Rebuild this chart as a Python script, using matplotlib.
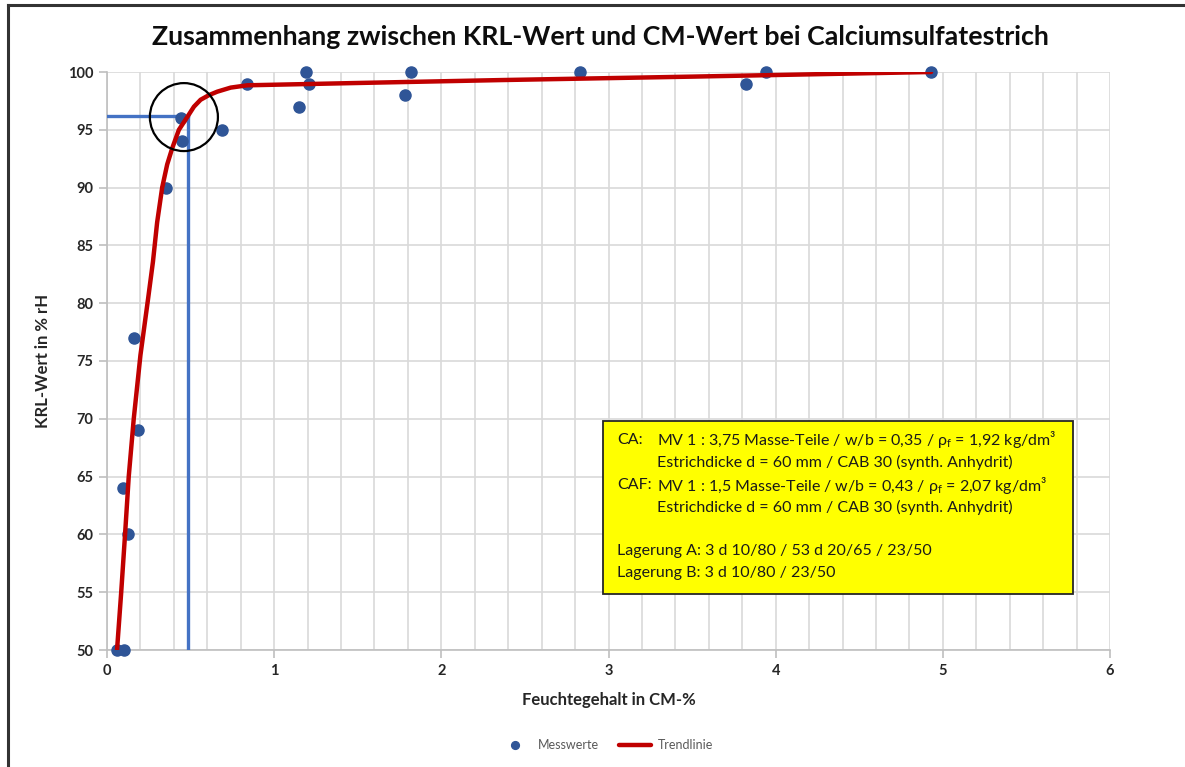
import matplotlib
matplotlib.use("Agg")
from matplotlib import pyplot as plt
from matplotlib.patches import Ellipse, Rectangle
from matplotlib.lines import Line2D
import numpy as np

plt.rcParams['font.family'] = ['Lato', 'DejaVu Sans']
plt.rcParams['mathtext.fontset'] = 'custom'
plt.rcParams['mathtext.rm'] = 'Lato'
plt.rcParams['mathtext.it'] = 'Lato:italic'

# Messwerte (CM-% / KRL-Wert % rH)
mess_x = [0.06, 0.10, 0.096, 0.125, 0.185, 0.16, 0.35, 0.44, 0.45, 0.69,
          0.84, 1.15, 1.19, 1.21, 1.78, 1.82, 2.83, 3.82, 3.94, 4.93]
mess_y = [50, 50, 64, 60, 69, 77, 90, 96, 94, 95,
          99, 97, 100, 99, 98, 100, 100, 99, 100, 100]

# Trendlinie
trend_x = [0.06, 0.085, 0.108, 0.13, 0.16, 0.20, 0.245, 0.275, 0.30, 0.33,
           0.36, 0.39, 0.43, 0.48, 0.52, 0.56, 0.61, 0.66, 0.74, 0.84,
           1.5, 2.35, 3.5, 4.93]
trend_y = [50, 55, 60, 65, 70, 75.5, 80.3, 83.6, 87.0, 90.0,
           92.0, 93.4, 95.0, 96.1, 97.0, 97.6, 98.0, 98.3, 98.65, 98.85,
           99.05, 99.3, 99.6, 100]

ablese_x = 0.485
ablese_y = 96.2

fig = plt.figure(figsize=(11.85, 7.67), dpi=100)
ax = fig.add_axes([107/1185, 1 - 650/767, (1110-107)/1185, (650-72)/767])

grid_c = "#d9d9d9"
ax.set_xlim(0, 6)
ax.set_ylim(50, 100)
ax.set_xticks(np.arange(0, 7, 1))
ax.set_xticks(np.arange(0, 6.01, 0.2), minor=True)
ax.set_yticks(np.arange(50, 101, 5))
ax.grid(which="both", color=grid_c, linewidth=1.2)
ax.set_axisbelow(True)
for s in ["top", "right"]:
    ax.spines[s].set_visible(False)
for s in ["left", "bottom"]:
    ax.spines[s].set_color("#bfbfbf")
    ax.spines[s].set_linewidth(1.2)
ax.tick_params(which="major", length=6, color="#bfbfbf", width=1.2,
               labelsize=10.5, pad=4)
ax.tick_params(which="minor", length=0)
for lab in ax.get_xticklabels() + ax.get_yticklabels():
    lab.set_fontweight("bold")
    lab.set_color("#262626")

# Ablese-Linien
ax.plot([0, ablese_x], [ablese_y, ablese_y], color="#4472C4", lw=2.4, zorder=3)
ax.plot([ablese_x, ablese_x], [50, ablese_y], color="#4472C4", lw=2.4, zorder=3)

ax.plot(mess_x, mess_y, "o", color="#2f5597", markersize=8, zorder=4,
        label="Messwerte", clip_on=False)
ax.plot(trend_x, trend_y, color="#c00000", lw=3.2, zorder=5,
        label="Trendlinie", solid_capstyle="round")

ax.add_patch(Ellipse((0.46, 96.1), 0.407, 5.88, fill=False, edgecolor="black",
                     lw=1.6, zorder=6))

# Info-Box
ax.add_patch(Rectangle((2.97, 54.85), 2.81, 14.95, facecolor="#ffff00",
                       edgecolor="#262626", lw=1.3, zorder=7))
fs = 11.5
tc = "#1a1a1a"
rows = [
    (3.05, 68.17, "CA:"),
    (3.29, 68.17, r"MV 1 : 3,75 Masse-Teile / w/b = 0,35 / $\mathregular{ρ_f}$ = 1,92 kg/dm³"),
    (3.29, 66.26, "Estrichdicke d = 60 mm / CAB 30 (synth. Anhydrit)"),
    (3.05, 64.27, "CAF:"),
    (3.29, 64.27, r"MV 1 : 1,5 Masse-Teile / w/b = 0,43 / $\mathregular{ρ_f}$ = 2,07 kg/dm³"),
    (3.29, 62.37, "Estrichdicke d = 60 mm / CAB 30 (synth. Anhydrit)"),
    (3.05, 58.56, "Lagerung A: 3 d 10/80 / 53 d 20/65 / 23/50"),
    (3.05, 56.66, "Lagerung B: 3 d 10/80 / 23/50"),
]
for x, y, t in rows:
    ax.text(x, y, t, fontsize=fs, color=tc, va="center", ha="left", zorder=8)

ax.set_xlabel("Feuchtegehalt in CM-%", fontsize=12, fontweight="bold",
              color="#262626", labelpad=10)
ax.set_ylabel("KRL-Wert in % rH", fontsize=12, fontweight="bold",
              color="#262626", labelpad=12)

fig.text(600/1185, 1 - 37/767, "Zusammenhang zwischen KRL-Wert und CM-Wert bei Calciumsulfatestrich",
         ha="center", va="center", fontsize=19.3, fontweight="bold", color="#0d0d0d")

leg = fig.legend(loc="center", bbox_to_anchor=(606/1185, 1 - 745/767), ncol=2,
                 frameon=False, fontsize=9, handlelength=2.6, columnspacing=1.6,
                 handletextpad=0.5, markerscale=0.7)
for t in leg.get_texts():
    t.set_color("#595959")

# Rahmen
fig.add_artist(Line2D([8/1185, 1], [1 - 5/767, 1 - 5/767], color="#333333", lw=2.2))
fig.add_artist(Line2D([8/1185, 8/1185], [0, 1 - 5/767], color="#333333", lw=2.2))

fig.savefig("out.png", dpi=100)
